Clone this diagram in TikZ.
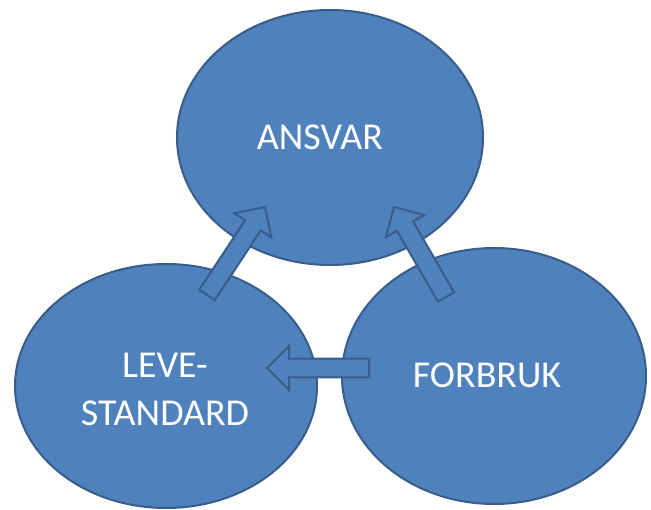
\documentclass[tikz,border=0pt]{standalone}
\usepackage{fontspec}
\setmainfont{Carlito}
\usetikzlibrary{shapes.geometric, calc}
\definecolor{ovalfill}{RGB}{79,129,189}
\definecolor{ovalline}{RGB}{56,93,138}
\tikzset{
  oval/.style={ellipse, draw=ovalline, fill=ovalfill, line width=1.5pt, inner sep=0pt},
  ovaltext/.style={text=white, font=\fontsize{28.5}{36}\selectfont, align=center, inner sep=0pt},
  blockarr/.style={draw=ovalline, fill=ovalfill, line width=1.5pt, line join=miter}
}
% block arrow from #1 to #2
\newcommand{\blockarrow}[2]{%
  \coordinate (hb) at ($(#2)!16.5pt!(#1)$);
  \draw[blockarr] ($(#1)!7pt!90:(#2)$) -- ($(hb)!7pt!90:(#2)$) -- ($(hb)!16.5pt!90:(#2)$) -- (#2)
    -- ($(hb)!16.5pt!-90:(#2)$) -- ($(hb)!7pt!-90:(#2)$) -- ($(#1)!7pt!-90:(#2)$) -- cycle;}

\begin{document}
\begin{tikzpicture}[x=0.75pt,y=0.75pt,yscale=-1,xscale=1]
\useasboundingbox (0,0) rectangle (651,510);

% Ellipses
\node[oval, minimum width=229.5pt, minimum height=191.25pt] (ansvar) at (330,137.5) {};
\node[oval, minimum width=226.5pt, minimum height=183pt] (leve) at (166,386) {};
\node[oval, minimum width=228pt, minimum height=192pt] (forbruk) at (494,376) {};

% Arrow ends
\coordinate (leveTail) at (207,295);
\coordinate (leveTip) at (265,207);
\coordinate (forbrukTail) at (446,297);
\coordinate (forbrukTip) at (394,207);
\coordinate (midTail) at (369,368);
\coordinate (midTip) at (267,368);

\blockarrow{leveTail}{leveTip}
\blockarrow{forbrukTail}{forbrukTip}
\blockarrow{midTail}{midTip}

% Text Node
\node[ovaltext] (ansvarText) at (320,137) {ANSVAR};
% Text Node
\node[ovaltext] (leveText) at (165,389) {LEVE-\\STANDARD};
% Text Node
\node[ovaltext] (forbrukText) at (487,375) {FORBRUK};

\end{tikzpicture}
\end{document}
